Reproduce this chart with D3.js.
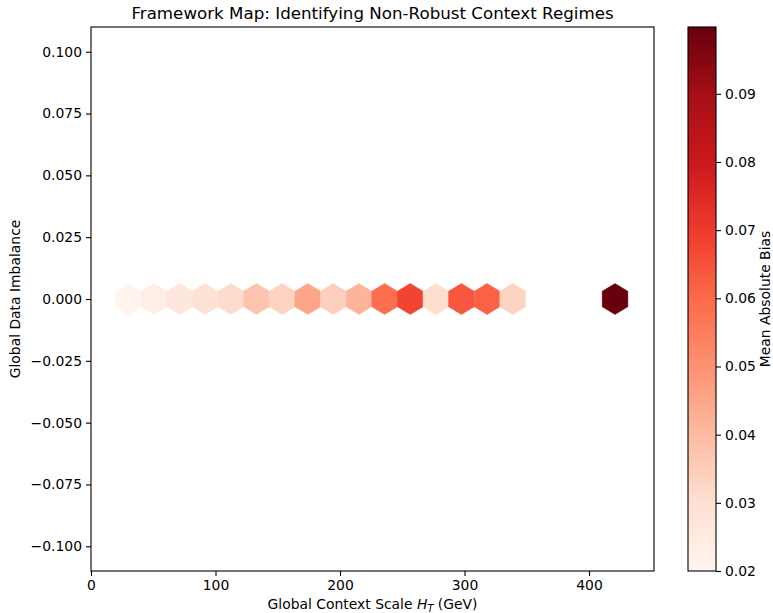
<!DOCTYPE html>
<html>
<head>
<meta charset="utf-8">
<script src="https://cdn.jsdelivr.net/npm/d3@7"></script>
<style>
  body { margin: 0; background: #fff; }
  svg { display: block; font-family: "DejaVu Sans", sans-serif; }
</style>
</head>
<body>
<svg id="chart" width="773" height="613"></svg>
<script>
// ---- data ----
const hexCenters = [30.0, 50.6, 71.2, 91.7, 112.3, 132.9, 153.5, 174.1, 194.6, 215.2, 235.8, 256.4, 277.0, 297.5, 318.1, 338.7, 420.9];
const hexY = [0, 0, 0, 0, 0, 0, 0, 0, 0, 0, 0, 0, 0, 0, 0, 0, 0];
const hexBias = [0.0205, 0.0235, 0.0265, 0.0290, 0.0310, 0.0375, 0.0335, 0.0450, 0.0345, 0.0415, 0.0590, 0.0680, 0.0305, 0.0640, 0.0615, 0.0335, 0.0998];
const xTicks = [0, 100, 200, 300, 400];
const yTicks = [0.100, 0.075, 0.050, 0.025, 0.000, -0.025, -0.050, -0.075, -0.100];
const cTicks = [0.02, 0.03, 0.04, 0.05, 0.06, 0.07, 0.08, 0.09];
const redsColors = ["#fff5f0","#fee0d2","#fcbba1","#fc9272","#fb6a4a","#ef3b2c","#cb181d","#a50f15","#67000d"];

// ---- layout ----
const svg = d3.select("#chart");
const plot = {left: 91, right: 654, top: 27, bottom: 571};
const cbar = {left: 688, right: 716, top: 27, bottom: 571};
const xDomain = [0, 452.2];
const yDomain = [-0.11, 0.11];
const cDomain = [0.02, 0.0998];
const hexW = 20.6;       // hex width in data units (x)
const hexHalfH = 0.00627; // vertex half-height in data units (y)

const x = d3.scaleLinear().domain(xDomain).range([plot.left, plot.right]);
const y = d3.scaleLinear().domain(yDomain).range([plot.bottom, plot.top]);
const cStops = redsColors.map((_, i) => cDomain[0] + (cDomain[1] - cDomain[0]) * i / (redsColors.length - 1));
const color = d3.scaleLinear().domain(cStops).range(redsColors).interpolate(d3.interpolateRgb).clamp(true);

// clip
svg.append("defs").append("clipPath").attr("id", "clip")
  .append("rect").attr("x", plot.left).attr("y", plot.top)
  .attr("width", plot.right - plot.left).attr("height", plot.bottom - plot.top);

// hexagons
const hexes = hexCenters.map((cx, i) => ({cx, cy: hexY[i], v: hexBias[i]}));
function hexPath(d) {
  const pts = [
    [d.cx + hexW / 2, d.cy - hexHalfH / 2],
    [d.cx + hexW / 2, d.cy + hexHalfH / 2],
    [d.cx, d.cy + hexHalfH],
    [d.cx - hexW / 2, d.cy + hexHalfH / 2],
    [d.cx - hexW / 2, d.cy - hexHalfH / 2],
    [d.cx, d.cy - hexHalfH]
  ];
  return "M" + pts.map(p => x(p[0]) + "," + y(p[1])).join("L") + "Z";
}
svg.append("g").attr("clip-path", "url(#clip)")
  .selectAll("path").data(hexes).join("path")
  .attr("d", hexPath)
  .attr("fill", d => color(d.v))
  .attr("stroke", d => color(d.v))
  .attr("stroke-width", 0.5);

// axes
const fmtY = v => (v < 0 ? "\u2212" : "") + Math.abs(v).toFixed(3);
const xAxis = svg.append("g").attr("transform", `translate(0,${plot.bottom})`)
  .call(d3.axisBottom(x).tickValues(xTicks).tickSize(5).tickPadding(4).tickFormat(d3.format("d")));
const yAxis = svg.append("g").attr("transform", `translate(${plot.left},0)`)
  .call(d3.axisLeft(y).tickValues(yTicks).tickSize(5).tickPadding(4).tickFormat(fmtY));
[xAxis, yAxis].forEach(g => {
  g.select(".domain").remove();
  g.selectAll("line").attr("stroke", "#000").attr("stroke-width", 1.1);
  g.selectAll("text").attr("font-size", 13.9).attr("fill", "#000").attr("font-family", "DejaVu Sans");
});

// spines
svg.append("rect").attr("x", plot.left).attr("y", plot.top)
  .attr("width", plot.right - plot.left).attr("height", plot.bottom - plot.top)
  .attr("fill", "none").attr("stroke", "#000").attr("stroke-width", 1.1);

// colorbar
const grad = svg.select("defs").append("linearGradient").attr("id", "cgrad")
  .attr("x1", 0).attr("y1", 1).attr("x2", 0).attr("y2", 0);
cStops.forEach((s, i) => grad.append("stop")
  .attr("offset", (i / (cStops.length - 1))).attr("stop-color", redsColors[i]));
svg.append("rect").attr("x", cbar.left).attr("y", cbar.top)
  .attr("width", cbar.right - cbar.left).attr("height", cbar.bottom - cbar.top)
  .attr("fill", "url(#cgrad)").attr("stroke", "#000").attr("stroke-width", 1.1);
const cy = d3.scaleLinear().domain(cDomain).range([cbar.bottom, cbar.top]);
const cAxis = svg.append("g").attr("transform", `translate(${cbar.right},0)`)
  .call(d3.axisRight(cy).tickValues(cTicks).tickSize(5).tickPadding(4).tickFormat(d3.format(".2f")));
cAxis.select(".domain").remove();
cAxis.selectAll("line").attr("stroke", "#000").attr("stroke-width", 1.1);
cAxis.selectAll("text").attr("font-size", 13.9).attr("fill", "#000").attr("font-family", "DejaVu Sans");

// labels
svg.append("text").attr("x", (plot.left + plot.right) / 2).attr("y", 19)
  .attr("text-anchor", "middle").attr("font-size", 16.7).text("Framework Map: Identifying Non-Robust Context Regimes");

const xl = svg.append("text").attr("x", (plot.left + plot.right) / 2).attr("y", 609)
  .attr("text-anchor", "middle").attr("font-size", 13.9);
xl.append("tspan").text("Global Context Scale ");
xl.append("tspan").attr("font-style", "italic").text("H");
xl.append("tspan").attr("font-style", "italic").attr("font-size", 9.7).attr("dy", 3).text("T");
xl.append("tspan").attr("dy", -3).text(" (GeV)");

svg.append("text").attr("transform", `translate(20,${(plot.top + plot.bottom) / 2}) rotate(-90)`)
  .attr("text-anchor", "middle").attr("font-size", 13.9).text("Global Data Imbalance");

svg.append("text").attr("transform", `translate(769.5,${(cbar.top + cbar.bottom) / 2}) rotate(-90)`)
  .attr("text-anchor", "middle").attr("font-size", 13.9).text("Mean Absolute Bias");
</script>
</body>
</html>
